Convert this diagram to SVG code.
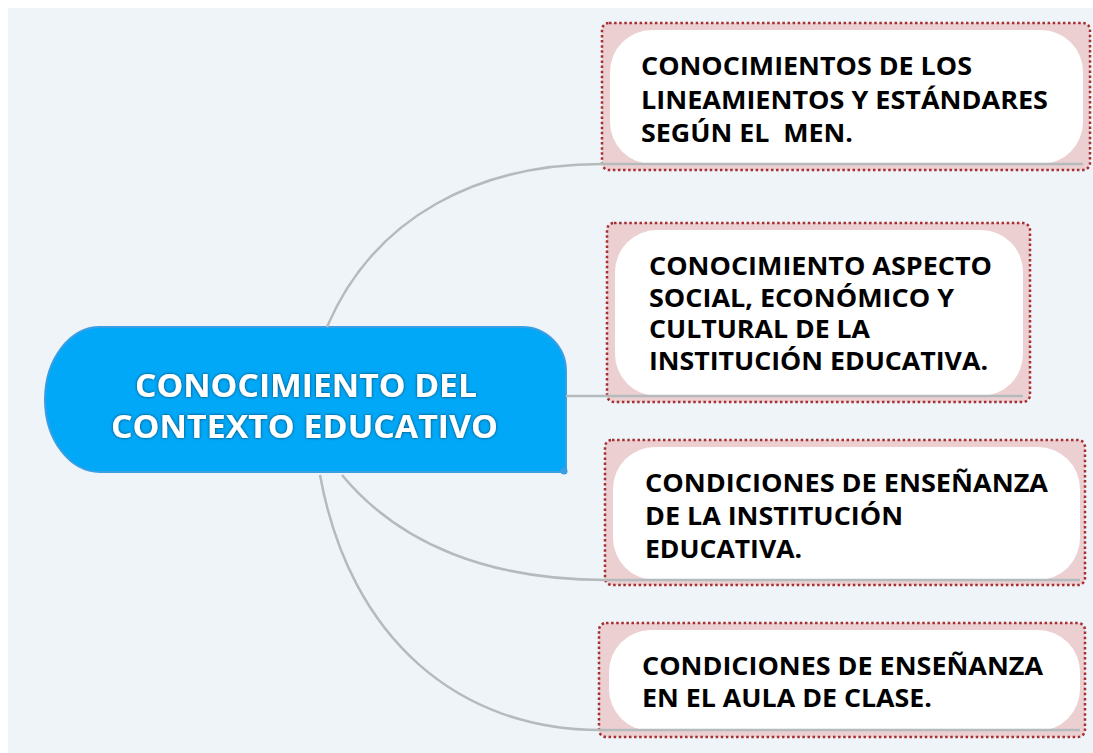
<svg xmlns="http://www.w3.org/2000/svg" width="1093" height="753" viewBox="0 0 1093 753">
  <defs>
    <filter id="halo" x="-10%" y="-30%" width="120%" height="160%">
      <feGaussianBlur in="SourceAlpha" stdDeviation="1.6" result="b"/>
      <feFlood flood-color="#003050" flood-opacity="0.9"/>
      <feComposite in2="b" operator="in" result="s"/>
      <feMerge><feMergeNode in="s"/><feMergeNode in="SourceGraphic"/></feMerge>
    </filter>
  </defs>
  <style>
    .outer { fill: #ecd0d1; stroke: #a52f33; stroke-width: 2.5; stroke-dasharray: 2.5 2.6; }
    .inner { fill: #ffffff; }
    .lbl { font-family: "Open Sans", "Noto Sans", "Liberation Sans", sans-serif; font-weight: 700; font-size: 25px; fill: #000000; }
    .main { font-family: "Open Sans", "Noto Sans", "Liberation Sans", sans-serif; font-weight: 700; font-size: 33px; fill: #ffffff; }
    .conn { fill: none; stroke: #b5babd; stroke-width: 2.5; }
  </style>
  <rect x="0" y="0" width="1093" height="753" fill="#ffffff"/>
  <rect x="8" y="8" width="1085" height="745" fill="#eef4f7"/>

  <g id="node-center">
    <path d="M100,327 H522 A44,44 0 0 1 566,371 V472 H100 A55,72.5 0 0 1 45,399.5 A55,72.5 0 0 1 100,327 Z" fill="#01a8f7" stroke="#3a9ee3" stroke-width="2"/>
    <circle cx="564" cy="471" r="3.5" fill="#3a9ee3"/>
    <g filter="url(#halo)">
      <text class="main" x="135" y="397" textLength="342" lengthAdjust="spacingAndGlyphs">CONOCIMIENTO DEL</text>
      <text class="main" x="111" y="438" textLength="387" lengthAdjust="spacingAndGlyphs">CONTEXTO EDUCATIVO</text>
    </g>
  </g>

  <g id="node-1">
    <rect class="outer" x="602" y="23" width="488" height="147" rx="7"/>
    <rect class="inner" x="610" y="30" width="473" height="134" rx="42"/>
    <text class="lbl" x="641" y="75" textLength="331" lengthAdjust="spacingAndGlyphs">CONOCIMIENTOS DE LOS</text>
    <text class="lbl" x="641" y="109" textLength="407" lengthAdjust="spacingAndGlyphs">LINEAMIENTOS Y ESTÁNDARES</text>
    <text class="lbl" x="641" y="142" textLength="212" lengthAdjust="spacingAndGlyphs" xml:space="preserve">SEGÚN EL  MEN.</text>
  </g>

  <g id="node-2">
    <rect class="outer" x="607" y="223" width="423" height="179" rx="7"/>
    <rect class="inner" x="615" y="230" width="408" height="166" rx="42"/>
    <text class="lbl" x="649" y="275" textLength="343" lengthAdjust="spacingAndGlyphs">CONOCIMIENTO ASPECTO</text>
    <text class="lbl" x="649" y="307" textLength="305" lengthAdjust="spacingAndGlyphs">SOCIAL, ECONÓMICO Y</text>
    <text class="lbl" x="649" y="338" textLength="221" lengthAdjust="spacingAndGlyphs">CULTURAL DE LA</text>
    <text class="lbl" x="649" y="370" textLength="339" lengthAdjust="spacingAndGlyphs">INSTITUCIÓN EDUCATIVA.</text>
  </g>

  <g id="node-3">
    <rect class="outer" x="605" y="440" width="480" height="145" rx="7"/>
    <rect class="inner" x="613" y="447" width="467" height="133" rx="42"/>
    <text class="lbl" x="645" y="492" textLength="403" lengthAdjust="spacingAndGlyphs">CONDICIONES DE ENSEÑANZA</text>
    <text class="lbl" x="645" y="525" textLength="258" lengthAdjust="spacingAndGlyphs">DE LA INSTITUCIÓN</text>
    <text class="lbl" x="645" y="558" textLength="157" lengthAdjust="spacingAndGlyphs">EDUCATIVA.</text>
  </g>

  <g id="node-4">
    <rect class="outer" x="599" y="623" width="486" height="114" rx="7"/>
    <rect class="inner" x="609" y="630" width="471" height="101" rx="42"/>
    <text class="lbl" x="642" y="675" textLength="401" lengthAdjust="spacingAndGlyphs">CONDICIONES DE ENSEÑANZA</text>
    <text class="lbl" x="642" y="707" textLength="290" lengthAdjust="spacingAndGlyphs">EN EL AULA DE CLASE.</text>
  </g>

  <g id="connectors">
    <path class="conn" d="M327,327 C375,215 480,164 602,164 H1083"/>
    <path class="conn" d="M566,396 H1023"/>
    <path class="conn" d="M342,475 C400,545 490,580 606,580 H1080"/>
    <path class="conn" d="M320,475 C350,640 460,730 600,730 H1080"/>
  </g>
</svg>
